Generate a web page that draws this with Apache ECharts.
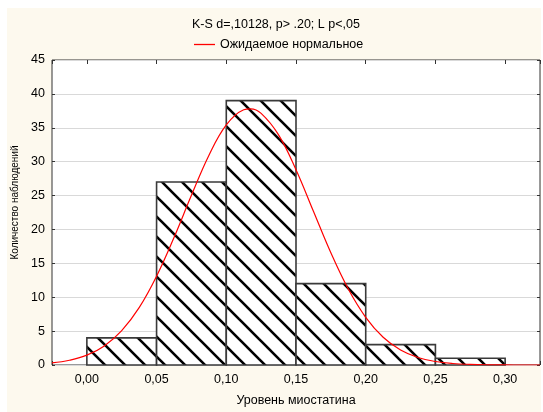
<!DOCTYPE html>
<html><head><meta charset="utf-8">
<script src="https://cdn.jsdelivr.net/npm/echarts@6/dist/echarts.min.js"></script>
<style>html,body{margin:0;padding:0;background:#fff}#c{width:543px;height:412px}</style>
</head><body><div id="c"></div>
<script>
const binStarts = [0.00, 0.05, 0.10, 0.15, 0.20, 0.25];
const binEnds   = [0.05, 0.10, 0.15, 0.20, 0.25, 0.30];
const counts    = [4, 27, 39, 12, 3, 1];
const curveX = [-0.025, -0.0125, 0.0, 0.0125, 0.025, 0.0375, 0.05, 0.0625, 0.075, 0.0875, 0.10, 0.1125, 0.1175, 0.125, 0.1375, 0.15, 0.1625, 0.175, 0.1875, 0.20, 0.2125, 0.225, 0.2375, 0.25, 0.2625, 0.275, 0.2875, 0.30, 0.3125, 0.325];
const curveY = [0.31, 0.70, 1.45, 2.82, 5.07, 8.46, 13.10, 18.80, 25.03, 30.92, 35.43, 37.66, 37.8, 37.13, 33.96, 28.81, 22.68, 16.55, 11.21, 7.04, 4.10, 2.22, 1.11, 0.52, 0.22, 0.09, 0.03, 0.01, 0.00, 0.00];
const yTicks = [0, 45, 5];
const titleText = 'K-S d=,10128, p> .20; L p<,05';
const legendName = 'Ожидаемое нормальное';
const xName = 'Уровень миостатина';
const yName = 'Количество наблюдений';

const FONT = "'Liberation Sans', Arial, sans-serif";

function hatch(){
  const c = document.createElement('canvas'); c.width = 20; c.height = 20;
  const g = c.getContext('2d');
  g.fillStyle = '#fff'; g.fillRect(0, 0, 20, 20);
  g.strokeStyle = '#000'; g.lineWidth = 2.6;
  for (const o of [-20, 0, 20]) { g.beginPath(); g.moveTo(o - 5, -5); g.lineTo(o + 25, 25); g.stroke(); }
  return c;
}
const pattern = hatch();

const chart = echarts.init(document.getElementById('c'), null, {renderer: 'canvas'});
const fmt = v => { const r = Math.round(v * 100); if (Math.abs(v * 100 - r) > 1e-6 || r % 5 !== 0) return ''; return (r / 100).toFixed(2).replace('.', ','); };

chart.setOption({
  animation: false,
  backgroundColor: '#fff',
  textStyle: {fontFamily: FONT},
  graphic: [{type: 'rect', left: 7, top: 8, z: -10, silent: true, shape: {width: 534, height: 404}, style: {fill: '#FDF9EE'}}],
  title: {text: titleText, left: 192, top: 18, padding: 0, textStyle: {fontSize: 12.5, fontWeight: 'normal', color: '#000', fontFamily: FONT}},
  legend: {left: 194, top: 38, padding: 0, itemWidth: 21, itemHeight: 1.3, data: [{name: legendName, icon: 'rect'}], textStyle: {fontSize: 12.5, color: '#000', fontFamily: FONT}},
  grid: {left: 52, right: 2.5, top: 60, bottom: 43.3, show: true, backgroundColor: '#fff', borderColor: '#333', borderWidth: 1},
  xAxis: [
    {type: 'value', min: -0.025, max: 0.325, splitNumber: 7, axisLine: {show: false, onZero: false}, splitLine: {show: false},
     axisTick: {inside: true, length: 4, lineStyle: {color: '#333'}},
     axisLabel: {formatter: fmt, margin: 8, fontSize: 12.5, color: '#000', fontFamily: FONT},
     name: xName, nameLocation: 'middle', nameGap: 29, nameTextStyle: {fontSize: 12.5, color: '#000', fontFamily: FONT}},
    {type: 'value', position: 'top', min: -0.025, max: 0.325, splitNumber: 7, axisLine: {show: false, onZero: false}, splitLine: {show: false},
     axisTick: {inside: true, length: 4, lineStyle: {color: '#333'}}, axisLabel: {show: false}}
  ],
  yAxis: [
    {type: 'value', min: yTicks[0], max: yTicks[1], interval: yTicks[2], axisLine: {show: false, onZero: false},
     axisTick: {inside: true, length: 3, lineStyle: {color: '#333'}},
     splitLine: {show: true, lineStyle: {color: '#d9d9d9', width: 1}},
     axisLabel: {margin: 7, fontSize: 12.5, color: '#000', fontFamily: FONT},
     name: yName, nameLocation: 'middle', nameGap: 27, nameTextStyle: {fontSize: 10, color: '#000', fontFamily: FONT, padding: [0, 0, 0, 20]}},
    {type: 'value', position: 'right', min: yTicks[0], max: yTicks[1], interval: yTicks[2], axisLine: {show: false, onZero: false},
     axisTick: {inside: true, length: 3, lineStyle: {color: '#333'}}, splitLine: {show: false}, axisLabel: {show: false}}
  ],
  series: [
    {type: 'custom', name: 'bars', xAxisIndex: 0, yAxisIndex: 0,
     data: binStarts.map((s, i) => [s, binEnds[i], counts[i]]),
     encode: {x: [0, 1], y: 2},
     renderItem(params, api) {
       const p0 = api.coord([api.value(0), api.value(2)]);
       const p1 = api.coord([api.value(1), 0]);
       return {type: 'rect', shape: {x: p0[0], y: p0[1], width: p1[0] - p0[0], height: p1[1] - p0[1]},
               style: {fill: {image: pattern, repeat: 'repeat'}, stroke: '#3a3a3a', lineWidth: 1.6}};
     }},
    {type: 'line', name: legendName, xAxisIndex: 0, yAxisIndex: 0, smooth: 0.4, symbol: 'none', z: 5,
     data: curveX.map((x, i) => [x, curveY[i]]),
     lineStyle: {color: '#ff0000', width: 1.2}, itemStyle: {color: '#ff0000'}}
  ]
});
</script></body></html>
